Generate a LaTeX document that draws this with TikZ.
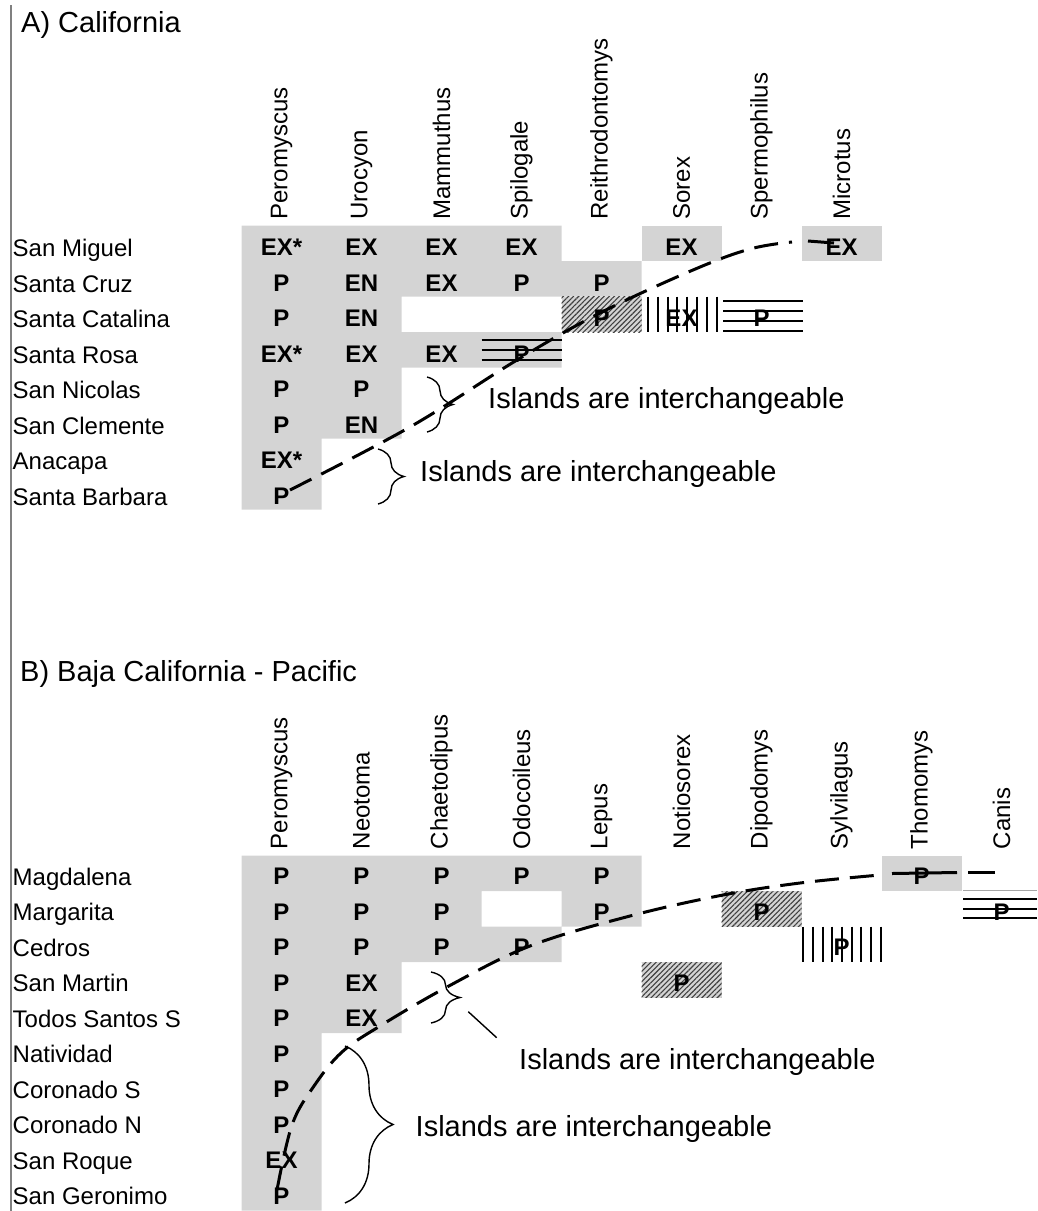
\documentclass[tikz,border=0pt]{standalone}
\usepackage{fontspec}
\setmainfont{Liberation Sans}
\usetikzlibrary{patterns.meta,decorations.pathreplacing}
\definecolor{cellgray}{RGB}{212,212,212}
\definecolor{edgegray}{RGB}{128,128,128}
\begin{document}
\begin{tikzpicture}[x=1pt,y=-1pt,
  lab/.style={anchor=base west, inner sep=0pt, font=\fontsize{24}{28}\selectfont},
  hdr/.style={rotate=90, anchor=west, inner sep=0pt, font=\fontsize{24}{28}\selectfont},
  val/.style={anchor=base, inner sep=0pt, font=\fontsize{24}{28}\selectfont\bfseries},
  big/.style={anchor=base west, inner sep=0pt, font=\fontsize{29}{34}\selectfont},
  hatchcell/.style={fill=cellgray, postaction={pattern={Lines[angle=45,distance=3.6pt,line width=1.1pt]}, pattern color=black!75}},
  bars/.style={line width=2pt, black},
  curve/.style={line width=3pt, dash pattern=on 24pt off 11pt},
  brc/.style={decorate, decoration={brace, amplitude=#1}, line width=1.4pt},
  thin/.style={line width=1.4pt}
]
\useasboundingbox (0,0) rectangle (1037,1211);
% left rule
\draw[edgegray, line width=1.2pt] (11,5) -- (11,1211);

% ---------------- Panel A ----------------
\node[big] (titleA) at (21,32) {A) California};
% gray cells
\fill[cellgray] (241.5,225.7) -- (561.5,225.7) -- (561.5,261.2) -- (641.5,261.2) -- (641.5,296.7)
  -- (401.5,296.7) -- (401.5,332.2) -- (561.5,332.2) -- (561.5,367.7) -- (401.5,367.7)
  -- (401.5,438.7) -- (321.5,438.7) -- (321.5,509.7) -- (241.5,509.7) -- cycle;
\fill[cellgray] (641.5,225.7) rectangle (721.5,261.2);
\fill[cellgray] (801.5,225.7) rectangle (881.5,261.2);
\fill[hatchcell] (561.5,296.7) rectangle (641.5,332.2);
% vertical bars (Sorex, Santa Catalina)
\foreach \k in {0,...,7} \draw[bars] ({648+9.8*\k},296.7) -- ({648+9.8*\k},332.2);
% horizontal bars (Spermophilus, Santa Catalina)
\foreach \y in {301,311,321,331} \draw[bars] (723.3,\y) -- (803.3,\y);
% horizontal bars (Spilogale, Santa Rosa)
\foreach \y in {340,350,360} \draw[bars] (481.7,\y) -- (562.3,\y);

% headers
\foreach \t [count=\i] in {Peromyscus,Urocyon,Mammuthus,Spilogale,Reithrodontomys,Sorex,Spermophilus,Microtus}
  \node[hdr] (ha\i) at ({281.5+80*(\i-1)},219.7) {\t};
% row labels
\foreach \t [count=\i] in {San Miguel,Santa Cruz,Santa Catalina,Santa Rosa,San Nicolas,San Clemente,Anacapa,Santa Barbara}
  \node[lab] (la\i) at (12.5,{243.45+13.5+35.5*(\i-1)}) {\t};
% cell values
\foreach \c/\r/\t in {1/1/EX*,2/1/EX,3/1/EX,4/1/EX,6/1/EX,8/1/EX,
  1/2/P,2/2/EN,3/2/EX,4/2/P,5/2/P,
  1/3/P,2/3/EN,5/3/P,6/3/EX,7/3/P,
  1/4/EX*,2/4/EX,3/4/EX,4/4/P,
  1/5/P,2/5/P,1/6/P,2/6/EN,1/7/EX*,1/8/P}
  \node[val] (va\c-\r) at ({281.5+80*(\c-1)},{243.45+12.5+35.5*(\r-1)}) {\t};
% braces and notes
\draw[brc=26] (427,377) -- (427,432);
\node[big] (noteA1) at (488,408) {Islands are interchangeable};
\draw[brc=26] (378,449) -- (378,504);
\node[big] (noteA2) at (420,481.7) {Islands are interchangeable};
% dashed boundary
\draw[curve] plot[smooth, tension=0.6] coordinates {(290,490) (410,427) (517,360) (600,313) (693,270) (750,249) (792,242)};
\draw[line width=3pt] (808,241) -- (834,243);

% ---------------- Panel B ----------------
\node[big] (titleB) at (20,681.7) {B) Baja California - Pacific};
\fill[cellgray, even odd rule] (241.5,855.5) -- (641.5,855.5) -- (641.5,926.5) -- (561.5,926.5) -- (561.5,962)
  -- (401.5,962) -- (401.5,1033) -- (321.5,1033) -- (321.5,1210.5) -- (241.5,1210.5) -- cycle
  (481.5,891) rectangle (561.5,926.5);
\fill[cellgray] (881.5,855.5) rectangle (961.5,891);
\fill[hatchcell] (721.5,891) rectangle (801.5,926.5);
\fill[hatchcell] (641.5,962) rectangle (721.5,997.5);
% vertical bars (Sylvilagus, Cedros)
\foreach \k in {0,...,8} \draw[bars] ({803.3+9.67*\k},926.5) -- ({803.3+9.67*\k},962);
% horizontal bars (Canis, Margarita)
\draw[edgegray!70, line width=1pt] (963,890) -- (1037,890);
\foreach \y in {899.3,908.5,918} \draw[bars] (963,\y) -- (1037,\y);

\foreach \t [count=\i] in {Peromyscus,Neotoma,Chaetodipus,Odocoileus,Lepus,Notiosorex,Dipodomys,Sylvilagus,Thomomys,Canis}
  \node[hdr] (hb\i) at ({281.5+80*(\i-1)},849.5) {\t};
\foreach \t [count=\i] in {Magdalena,Margarita,Cedros,San Martin,Todos Santos S,Natividad,Coronado S,Coronado N,San Roque,San Geronimo}
  \node[lab] (lb\i) at (12.5,{873.25+12+35.5*(\i-1)}) {\t};
\foreach \c/\r/\t in {1/1/P,2/1/P,3/1/P,4/1/P,5/1/P,9/1/P,
  1/2/P,2/2/P,3/2/P,5/2/P,7/2/P,10/2/P,
  1/3/P,2/3/P,3/3/P,4/3/P,8/3/P,
  1/4/P,2/4/EX,6/4/P,
  1/5/P,2/5/EX,
  1/6/P,1/7/P,1/8/P,1/9/EX,1/10/P}
  \node[val] (vb\c-\r) at ({281.5+80*(\c-1)},{873.25+11.5+35.5*(\r-1)}) {\t};
\draw[brc=29] (431,972) -- (431,1023);
\coordinate (ptrA) at (468.3,1011.7);
\coordinate (ptrB) at (496.7,1037.7);
\draw[thin] (ptrA) -- (ptrB);
\node[big] (noteB1) at (519,1069) {Islands are interchangeable};
\draw[brc=48] (345,1046) -- (345,1203);
\node[big] (noteB2) at (415.5,1136) {Islands are interchangeable};
\draw[curve] plot[smooth, tension=0.6] coordinates {(277,1190) (292,1125) (314,1086) (342,1052) (380,1026) (447,987) (530,946) (630,916) (723,895) (800,883) (880,875)};
\draw[line width=3pt] (892,873.5) -- (957,872.5);
\draw[line width=3pt] (968,872.5) -- (995,872.5);
\end{tikzpicture}
\end{document}
